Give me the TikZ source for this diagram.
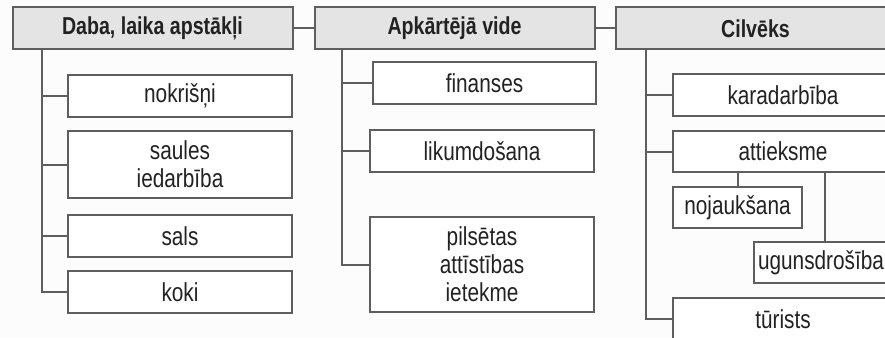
\documentclass[tikz,border=0pt]{standalone}
\usepackage{fontspec}
\setmainfont{Liberation Sans}[FakeStretch=0.8]
\usepackage{xcolor}
\usetikzlibrary{positioning,calc}
\definecolor{tbLine}{HTML}{5E5E5E}
\definecolor{tbHead}{HTML}{E4E4E4}
\definecolor{tbPaper}{HTML}{FCFCFC}
\definecolor{tbText}{HTML}{222222}

\begin{document}
\begin{tikzpicture}[
  x=1pt, y=-1pt,
  font=\fontsize{26}{28}\selectfont,
  head/.style={rectangle, draw=tbLine, line width=2pt, fill=tbHead, text=tbText,
               font=\fontsize{24.5}{28}\selectfont\bfseries, minimum width=280pt, minimum height=42pt, inner sep=0pt},
  item/.style={rectangle, draw=tbLine, line width=2pt, fill=white, text=tbText, align=center,
               minimum width=222pt, minimum height=42pt, inner sep=0pt},
  link/.style={draw=tbLine, line width=2pt},
]
% ── Canvas ────────────────────────────────────────────────────────────────────
\clip (0,0) rectangle (885,337);
\fill[tbPaper] (0,0) rectangle (885,337);

% ── Top row ───────────────────────────────────────────────────────────────────
\node[head] (daba)  at (152.5,28.5) {Daba, laika apstākļi};
\node[head] (vide)  at (454.5,28.5) {Apkārtējā vide};
\node[head] (cilv)  at (755.5,28.5) {Cilvēks};
\draw[link] (daba.east) -- (vide.west);
\draw[link] (vide.east) -- (cilv.west);

% ── Daba, laika apstākļi ──────────────────────────────────────────────────────
\node[item, minimum width=224pt] (nokr)  at (180,95.5) {nokrišņi};
\node[item, minimum width=224pt, minimum height=67pt] (saul) at (180,164.5) {saules\\iedarbība};
\node[item, minimum width=224pt] (sals)  at (180,236) {sals};
\node[item, minimum width=224pt] (koki)  at (180,292) {koki};
\coordinate (tdaba) at (42,0);
\draw[link] (tdaba |- daba.south) |- (koki.west);
\foreach \b in {nokr,saul,sals}{ \draw[link] (tdaba |- \b.west) -- (\b.west); }

% ── Apkārtējā vide ────────────────────────────────────────────────────────────
\node[item, minimum width=223pt] (fina)  at (484.5,83) {finanses};
\node[item, minimum width=224pt] (liku)  at (482,151) {likumdošana};
\node[item, minimum width=224pt, minimum height=95pt] (pils) at (482,264.5) {pilsētas\\attīstības\\ietekme};
\coordinate (tvide) at (342,0);
\draw[link] (tvide |- vide.south) |- (pils.west);
\foreach \b in {fina,liku}{ \draw[link] (tvide |- \b.west) -- (\b.west); }

% ── Cilvēks ───────────────────────────────────────────────────────────────────
\node[item, minimum width=220pt] (kara)  at (783,95) {karadarbība};
\node[item, minimum width=220pt, minimum height=41pt] (attk) at (783,151.5) {attieksme};
\node[item, minimum width=129pt, minimum height=41pt] (noja) at (737.5,207.5) {nojaukšana};
\node[item, minimum width=136pt, minimum height=41pt, text width=128pt, align=left] (ugun) at (822,262.5) {ugunsdrošība};
\node[item, minimum width=220pt] (turi)  at (783,319) {tūrists};
\coordinate (tcilv) at (646,0);
\draw[link] (tcilv |- cilv.south) |- (turi.west);
\foreach \b in {kara,attk}{ \draw[link] (tcilv |- \b.west) -- (\b.west); }

% sub-items under attieksme
\draw[link] (attk.south -| noja.north) -- (noja.north);
\draw[link] (attk.south -| 825,0) -- (ugun.north -| 825,0);

\end{tikzpicture}
\end{document}
